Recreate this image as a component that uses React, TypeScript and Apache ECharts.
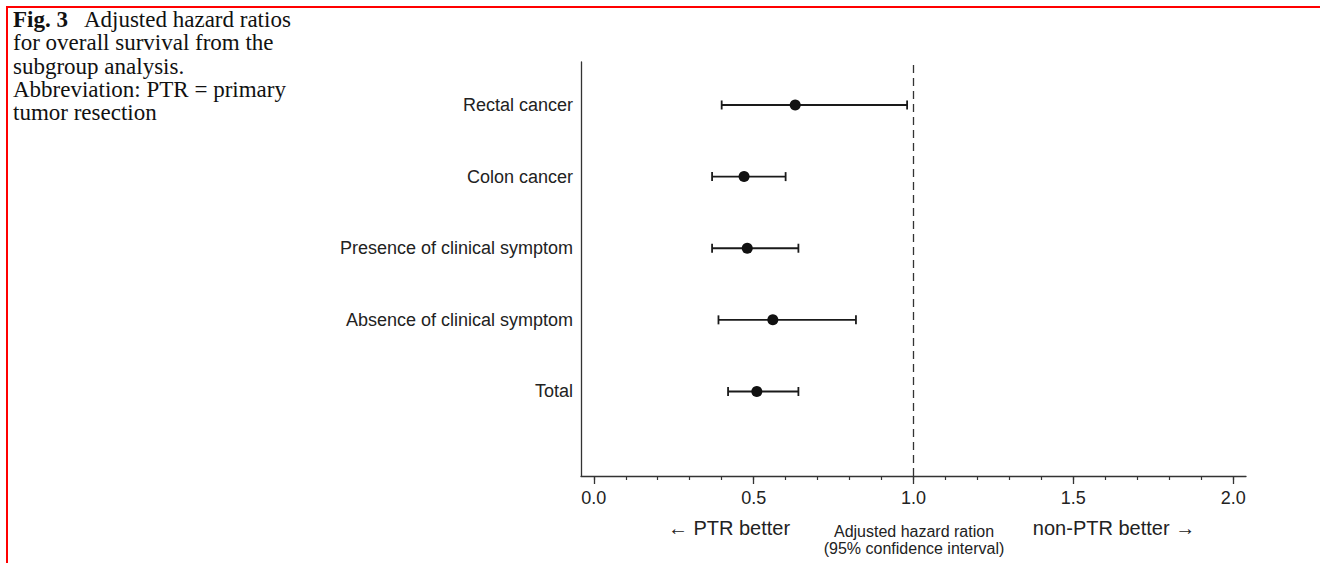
import React, { useEffect, useRef } from "react";
import * as echarts from "echarts";

const categories = ["Total", "Absence of clinical symptom", "Presence of clinical symptom", "Colon cancer", "Rectal cancer"];
const estimates = [0.51, 0.56, 0.48, 0.47, 0.63];
const lowerCI = [0.42, 0.39, 0.37, 0.37, 0.40];
const upperCI = [0.64, 0.82, 0.64, 0.60, 0.98];
const majorTicks = [0, 0.5, 1.0, 1.5, 2.0];
const minorTicks = [0, 0.1, 0.2, 0.3, 0.4, 0.5, 0.6, 0.7, 0.8, 0.9, 1.0, 1.1, 1.2, 1.3, 1.4, 1.5, 1.6, 1.7, 1.8, 1.9, 2.0];
const rowPositions = [1, 2, 3, 4, 5];
const referenceValue = 1.0;

const captionLines = [
  ["Fig. 3", "   Adjusted hazard ratios"],
  ["", "for overall survival from the"],
  ["", "subgroup analysis."],
  ["", "Abbreviation: PTR = primary"],
  ["", "tumor resection"],
];

export default function App() {
  const ref = useRef<HTMLDivElement>(null);
  useEffect(() => {
    if (!ref.current) return;
    const chart = echarts.init(ref.current, null, { renderer: "svg" });
    const sans = "Liberation Sans, Arial, Helvetica, sans-serif";
    const serif = "Liberation Serif, Times New Roman, serif";
    const ink = "#222";
    const captionText = captionLines
      .map(([b, r]) => (b ? `{b|${b}}{r|${r}}` : `{r|${r}}`))
      .join("\n");
    chart.setOption({
      animation: false,
      backgroundColor: "#fff",
      grid: { left: 581, right: 74, top: 62, bottom: 87, containLabel: false },
      xAxis: [
        {
          type: "value",
          min: -0.04,
          max: 2.04,
          position: "bottom",
          axisLine: { show: true, onZero: false, lineStyle: { color: "#333", width: 1.3 } },
          axisTick: { show: true, customValues: minorTicks, length: 4, lineStyle: { color: "#333", width: 1.2 } },
          axisLabel: { show: false },
          splitLine: { show: false },
        },
        {
          type: "value",
          min: -0.04,
          max: 2.04,
          position: "bottom",
          axisLine: { show: false, onZero: false },
          axisTick: { show: true, customValues: majorTicks, length: 8, lineStyle: { color: "#333", width: 1.3 } },
          axisLabel: {
            show: true,
            customValues: majorTicks,
            formatter: (v: number) => v.toFixed(1),
            margin: 13,
            fontFamily: sans,
            fontSize: 18,
            color: ink,
          },
          splitLine: { show: false },
        },
      ],
      yAxis: {
        type: "value",
        min: -0.18,
        max: 5.6,
        axisLine: { show: true, onZero: false, lineStyle: { color: "#333", width: 1.3 } },
        axisTick: { show: false },
        splitLine: { show: false },
        axisLabel: {
          show: true,
          customValues: rowPositions,
          formatter: (v: number) => categories[rowPositions.indexOf(v)] ?? "",
          margin: 8,
          fontFamily: sans,
          fontSize: 18,
          color: ink,
        },
      },
      series: [
        {
          type: "custom",
          xAxisIndex: 0,
          data: categories.map((_, i) => [lowerCI[i], upperCI[i], rowPositions[i]]),
          renderItem: (params: any, api: any) => {
            const lo = api.coord([api.value(0), api.value(2)]);
            const hi = api.coord([api.value(1), api.value(2)]);
            const cap = 4.5;
            const style = { stroke: "#1a1a1a", lineWidth: 1.8 };
            return {
              type: "group",
              children: [
                { type: "line", shape: { x1: lo[0], y1: lo[1], x2: hi[0], y2: hi[1] }, style },
                { type: "line", shape: { x1: lo[0], y1: lo[1] - cap, x2: lo[0], y2: lo[1] + cap }, style },
                { type: "line", shape: { x1: hi[0], y1: hi[1] - cap, x2: hi[0], y2: hi[1] + cap }, style },
              ],
            };
          },
          z: 2,
        },
        {
          type: "scatter",
          xAxisIndex: 0,
          data: categories.map((_, i) => [estimates[i], rowPositions[i]]),
          symbol: "circle",
          symbolSize: 11,
          itemStyle: { color: "#111", opacity: 1 },
          z: 3,
          markLine: {
            silent: true,
            symbol: ["none", "none"],
            label: { show: false },
            lineStyle: { color: "#333", type: [8, 5], width: 1.3 },
            data: [{ xAxis: referenceValue }],
          },
        },
      ],
      graphic: [
        { type: "line", shape: { x1: 6, y1: 7, x2: 1320, y2: 7 }, style: { stroke: "#ff0000", lineWidth: 2 } },
        { type: "line", shape: { x1: 7, y1: 6, x2: 7, y2: 563 }, style: { stroke: "#ff0000", lineWidth: 2 } },
        {
          type: "text",
          left: 13,
          top: 8,
          style: {
            text: captionText,
            rich: {
              b: { fontFamily: serif, fontWeight: "bold", fontSize: 23, lineHeight: 23.3, fill: "#111" },
              r: { fontFamily: serif, fontSize: 23, lineHeight: 23.3, fill: "#111" },
            },
          },
        },
        {
          type: "text",
          x: 729,
          y: 528,
          style: { text: "\u2190 PTR better", font: `20px ${sans}`, fill: ink, align: "center", verticalAlign: "middle" },
        },
        {
          type: "text",
          x: 914,
          y: 540,
          style: {
            text: "Adjusted hazard ration\n(95% confidence interval)",
            font: `16px ${sans}`,
            lineHeight: 17.5,
            fill: ink,
            align: "center",
            verticalAlign: "middle",
          },
        },
        {
          type: "text",
          x: 1114,
          y: 528,
          style: { text: "non-PTR better \u2192", font: `20px ${sans}`, fill: ink, align: "center", verticalAlign: "middle" },
        },
      ],
    });
    return () => chart.dispose();
  }, []);
  return <div ref={ref} style={{ position: "absolute", left: 0, top: 0, width: 1320, height: 563 }} />;
}
